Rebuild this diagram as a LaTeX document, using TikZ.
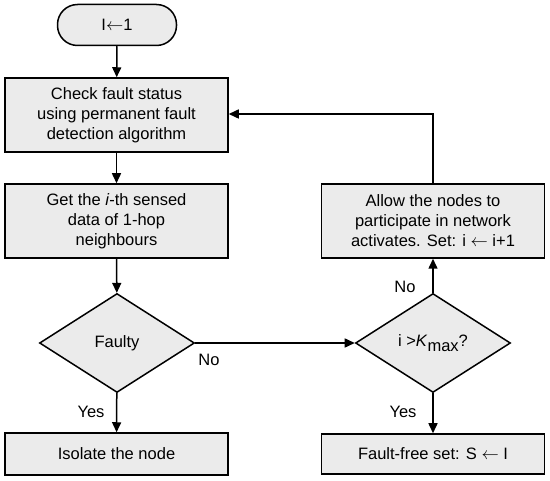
\documentclass[tikz,border=0pt]{standalone}
\usepackage{fontspec}
\setmainfont{Liberation Sans}
\usetikzlibrary{shapes.geometric,arrows.meta}
\newcommand{\larr}{\raisebox{0.5pt}{$\leftarrow$}}
\begin{document}
\begin{tikzpicture}[x=1pt,y=-1pt,
  every node/.style={font=\fontsize{16.5}{20}\selectfont},
  proc/.style={draw,line width=1.5pt,fill=black!8,minimum width=223pt,align=center,inner sep=0pt},
  dec/.style={draw,line width=1.5pt,fill=black!8,shape=diamond,minimum width=155pt,minimum height=99pt,inner sep=0pt,aspect=1.57},
  term/.style={draw,line width=1.5pt,fill=black!8,rounded corners=20pt,minimum width=119pt,minimum height=41pt},
  flow/.style={line width=1.5pt,-{Triangle[length=10pt,width=9pt]}},
  lbl/.style={font=\fontsize{16.5}{18}\selectfont}]
\useasboundingbox (0,0) rectangle (550,481);
\node[term] (start) at (117,25) {I\larr1};
\node[proc,minimum height=74pt] (check) at (116.5,115) {Check fault status\\using permanent fault\\detection algorithm};
\node[proc,minimum height=74pt] (get) at (116.5,221) {Get the \textit{i}-th sensed\\data of 1-hop\\neighbours};
\node[dec] (faulty) at (117,343) {Faulty};
\node[proc,minimum height=42pt] (iso) at (116.5,454) {Isolate the node};
\node[dec] (kmax) at (433,343) {i \raisebox{0pt}{>}\textit{K}\raisebox{-5pt}{max}?};
\node[proc,minimum height=74pt] (allow) at (433,221) {Allow the nodes to\\participate in network\\activates. Set: i \larr\ i+1};
\node[proc,minimum height=40pt] (free) at (433,454) {Fault-free set: S \larr\ I};
\coordinate (corner) at (433,114);
\draw[flow] (start) -- (check);
\draw[flow] (check) -- (get);
\draw[flow] (get) -- (faulty);
\draw[flow] (faulty) -- (iso);
\draw[flow] (faulty) -- (kmax);
\draw[flow] (kmax) -- (free);
\draw[flow] (kmax) -- (allow);
\draw[flow] (allow.north) -- (corner) -- (check.east |- corner);
\node[lbl] at (91,412) {Yes};
\node[lbl] at (209,360) {No};
\node[lbl] at (403,412) {Yes};
\node[lbl] at (405,287) {No};
\end{tikzpicture}
\end{document}
